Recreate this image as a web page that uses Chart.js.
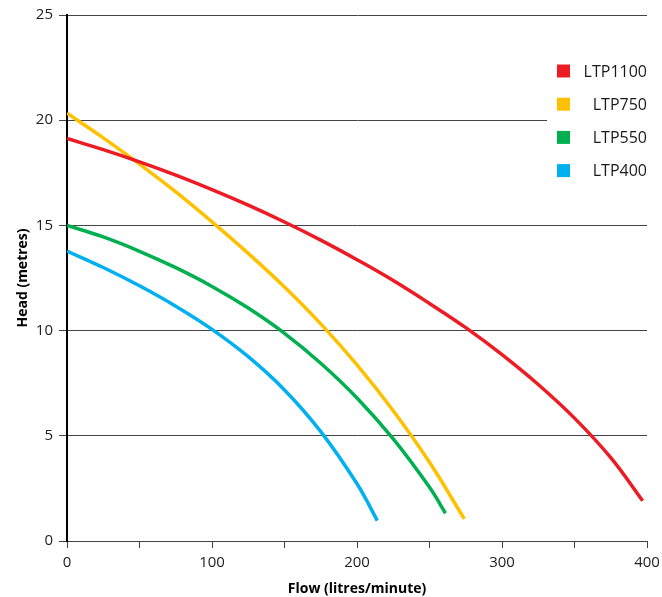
<!DOCTYPE html>
<html>
<head>
<meta charset="utf-8">
<title>Pump curves</title>
<script src="https://cdn.jsdelivr.net/npm/chart.js@4.4.1/dist/chart.umd.min.js"></script>
<style>
    html, body { margin: 0; padding: 0; background: #fff; }
    #wrap { position: relative; width: 662px; height: 597px; }
</style>
</head>
<body>
<div id="wrap"><canvas id="pumpChart"></canvas></div>
<script>

// Series (flow in litres/minute, head in metres)
const pumpNames = ['LTP1100', 'LTP750', 'LTP550', 'LTP400'];
const pumpColors = ['#ED1C24', '#FFC000', '#00B050', '#00B0F0'];

const flow1100 = [0, 25, 50, 75, 100, 125, 150, 175, 200, 225, 250, 275, 300, 325, 350, 375, 397];
const head1100 = [19.13, 18.6, 18.02, 17.39, 16.7, 15.96, 15.16, 14.3, 13.37, 12.38, 11.29, 10.14, 8.86, 7.44, 5.84, 3.96, 1.91];

const flow750 = [0, 25, 50, 75, 100, 125, 150, 175, 200, 225, 250, 274];
const head750 = [20.33, 19.16, 17.91, 16.59, 15.17, 13.67, 12.07, 10.32, 8.37, 6.19, 3.74, 1.05];

const flow550 = [0, 25, 50, 75, 100, 125, 150, 175, 200, 225, 250, 261];
const head550 = [15.0, 14.45, 13.77, 12.99, 12.1, 11.07, 9.87, 8.45, 6.8, 4.85, 2.55, 1.32];

const flow400 = [0, 25, 50, 75, 100, 125, 150, 175, 200, 214];
const head400 = [13.78, 13.0, 12.13, 11.16, 10.06, 8.76, 7.18, 5.2, 2.72, 0.97];

// Axis ticks
const flowTicks = [0, 100, 200, 300, 400];
const headTicks = [0, 5, 10, 15, 20, 25];

const flows = [flow1100, flow750, flow550, flow400];
const heads = [head1100, head750, head550, head400];

const FONT = "'Open Sans', sans-serif";

function toPoints(xs, ys) {
    return xs.map(function(x, i) { return { x: x, y: ys[i] }; });
}

// Legend drawn in the top right corner of the plot, over the grid
const cornerLegend = {
    id: 'cornerLegend',
    afterDraw: function(chart) {
        const ctx = chart.ctx;
        const area = chart.chartArea;
        ctx.save();
        ctx.fillStyle = '#ffffff';
        ctx.fillRect(area.right - 100, area.top + 30, 101, 150);
        ctx.font = '16px ' + FONT;
        ctx.textAlign = 'right';
        ctx.textBaseline = 'middle';
        chart.data.datasets.forEach(function(ds, i) {
            const cy = area.top + 56 + i * 33.2;
            ctx.fillStyle = ds.borderColor;
            ctx.fillRect(area.right - 90, cy - 6.5, 13, 13);
            ctx.fillStyle = '#1a1a1a';
            ctx.fillText(ds.label, area.right, cy + 1);
        });
        ctx.restore();
    }
};

const ctx = document.getElementById('pumpChart').getContext('2d');
const pumpChart = new Chart(ctx, {
    type: 'scatter',
    data: {
        datasets: pumpNames.map(function(name, i) {
            return {
                label: name,
                data: toPoints(flows[i], heads[i]),
                showLine: true,
                borderColor: pumpColors[i],
                backgroundColor: pumpColors[i],
                borderWidth: 3.5,
                pointRadius: 0,
                tension: 0.4
            };
        })
    },
    options: {
        responsive: true,
        maintainAspectRatio: false,
        animation: false,
        layout: {
            padding: { top: 15, right: 15, left: 0, bottom: 0 }
        },
        plugins: {
            legend: { display: false },
            tooltip: { enabled: false }
        },
        scales: {
            x: {
                type: 'linear',
                min: 0,
                max: 400,
                afterFit: function(scale) {
                    scale.height = 56;
                    scale.paddingLeft = 5;
                    scale.paddingRight = 12;
                },
                afterBuildTicks: function(scale) {
                    const t = [];
                    for (let v = 0; v <= 400; v += 50) t.push({ value: v });
                    scale.ticks = t;
                },
                ticks: {
                    color: '#222',
                    font: { family: FONT, size: 15 },
                    padding: 6,
                    maxRotation: 0,
                    autoSkip: false,
                    callback: function(value) {
                        return flowTicks.indexOf(value) >= 0 ? String(value) : '';
                    }
                },
                grid: {
                    drawOnChartArea: false,
                    drawTicks: true,
                    tickLength: 7,
                    color: '#444'
                },
                border: { color: '#444', width: 1 },
                title: {
                    display: true,
                    text: 'Flow (litres/minute)',
                    color: '#000',
                    font: { family: FONT, size: 14, weight: 'bold' },
                    padding: { top: 3, bottom: 0 }
                }
            },
            y: {
                type: 'linear',
                min: 0,
                max: 25,
                afterFit: function(scale) { scale.width = 67; },
                afterBuildTicks: function(scale) {
                    scale.ticks = headTicks.map(function(v) { return { value: v }; });
                },
                ticks: {
                    color: '#222',
                    font: { family: FONT, size: 15 },
                    padding: 6
                },
                grid: {
                    color: '#444',
                    lineWidth: 1,
                    tickLength: 8
                },
                border: { color: '#000', width: 2 },
                title: {
                    display: true,
                    text: 'Head (metres)',
                    color: '#000',
                    font: { family: FONT, size: 14, weight: 'bold' },
                    padding: { top: 15, bottom: 0 }
                }
            }
        }
    },
    plugins: [cornerLegend]
});
</script>
</body>
</html>
